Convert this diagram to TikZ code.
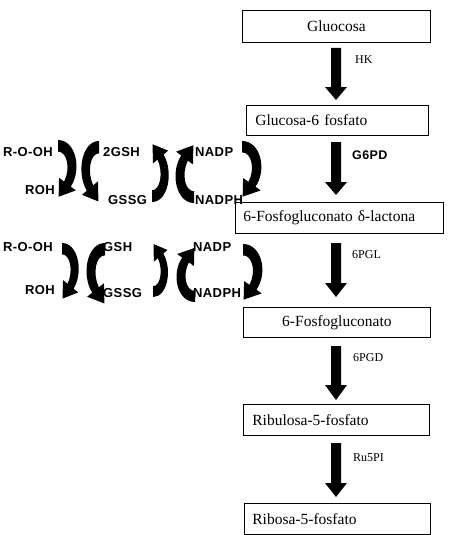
\documentclass[tikz,border=0pt]{standalone}
\usepackage{fontspec}
\setmainfont{Liberation Serif}
\newfontfamily\lsans[LetterSpace=3]{Liberation Sans}
\newcommand{\crescent}[4]{%
  \fill[black, shift={(#1,#2)}, xscale=#3, yscale=#4]
    (0,0) .. controls (17,0) and (23,28) .. (12.2,44.4)
    -- (17.0,48.0) -- (0.6,54.0) -- (1.0,36.0) -- (5.8,39.6)
    .. controls (12,28) and (9,11) .. (0,11) -- cycle;}
\newcommand{\bigarr}[3]{%
  \fill[black] (331,#1) -- (341,#1) -- (341,#2) -- (347,#2) -- (336,#3)
    -- (325,#2) -- (331,#2) -- cycle;}
\begin{document}
\begin{tikzpicture}[x=1pt,y=-1pt,
  box/.style={draw, line width=0.8pt, anchor=north west, inner xsep=0pt,
    inner ysep=0pt, font=\fontsize{15.5}{15.5}\selectfont},
  enz/.style={anchor=west, inner sep=0pt, font=\fontsize{12}{12}\selectfont},
  enzb/.style={anchor=west, inner sep=0pt, font=\lsans\bfseries\fontsize{12.5}{12.5}\selectfont},
  met/.style={anchor=west, inner sep=0pt, font=\lsans\bfseries\fontsize{13}{13}\selectfont}]
\useasboundingbox (0,0) rectangle (463,535);

% boxes
\node (b1) [box, text width=188, align=center, minimum height=32] at (242,10) {Gluocosa};
\node (b2) [box, text width=182, align=left, minimum height=30] at (246,105) {\hspace*{9pt}Glucosa-6 fosfato};
\node (b3) [box, text width=208, align=left, minimum height=31] at (235,202) {\hspace*{8pt}6-Fosfogluconato δ-lactona};
\node (b4) [box, text width=187, align=center, minimum height=30] at (243,307) {6-Fosfogluconato};
\node (b5) [box, text width=186, align=left, minimum height=31] at (243,404) {\hspace*{9pt}Ribulosa-5-fosfato};
\node (b6) [box, text width=186, align=left, minimum height=31] at (244,503) {\hspace*{8pt}Ribosa-5-fosfato};

% main arrows
\bigarr{48}{87}{100}
\bigarr{142}{182}{195}
\bigarr{243}{283}{297}
\bigarr{346}{385}{400}
\bigarr{443}{483}{497}

% enzyme labels
\node (hk) [enz] at (355,60) {HK};
\node (g6pd) [enzb] at (352,155) {G6PD};
\node (pgl) [enz] at (352,255) {6PGL};
\node (pgd) [enz] at (353,358) {6PGD};
\node (rpi) [enz] at (353,458) {Ru5PI};

% row 1 labels
\node (r1a) [met] at (3,152) {R-O-OH};
\node (r1b) [met] at (25,190) {ROH};
\node (r1c) [met] at (103,152) {2GSH};
\node (r1d) [met] at (108,200) {GSSG};
\node (r1e) [met] at (195,152) {NADP};
\node (r1f) [met] at (195,200) {NADPH};
% row 2 labels
\node (r2a) [met] at (3,247) {R-O-OH};
\node (r2b) [met] at (25,290) {ROH};
\node (r2c) [met] at (103,247) {GSH};
\node (r2d) [met] at (103,293) {GSSG};
\node (r2e) [met] at (193,247) {NADP};
\node (r2f) [met] at (193,293) {NADPH};

% row 1 curved arrows
\crescent{58}{140}{1.05}{1.05}
\crescent{99}{141}{-1.0}{1.12}
\crescent{152}{202}{0.95}{-1.07}
\crescent{194}{203}{-1.05}{-1.07}
\crescent{242}{141}{1.1}{1.03}
% row 2 curved arrows
\crescent{62}{243}{0.95}{1.03}
\crescent{105}{243}{-1.05}{1.12}
\crescent{153}{297}{0.85}{-0.98}
\crescent{195}{302}{-1.05}{-1.0}
\crescent{243}{244}{1.1}{1.03}
\end{tikzpicture}
\end{document}
